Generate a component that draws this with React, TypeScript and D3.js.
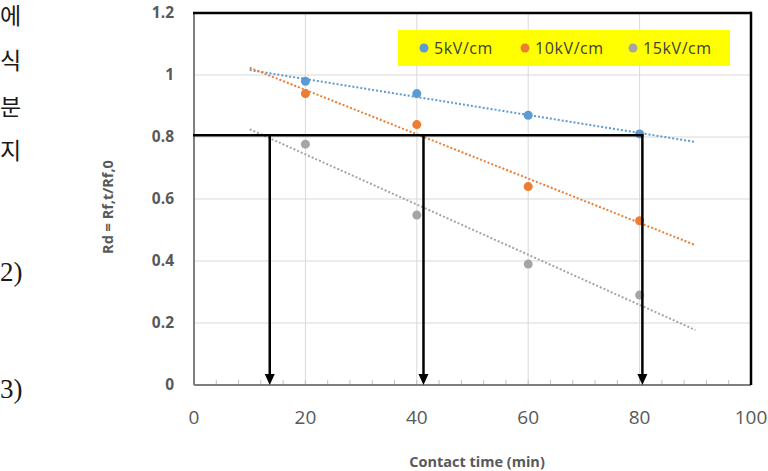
import React from "react";
import * as d3 from "d3";

// Contact time (min) at which each run was sampled
const times = [20, 40, 60, 80];
// Normalised flux ratio Rd for each field strength
const series5 = [0.98, 0.94, 0.87, 0.81];
const series10 = [0.94, 0.84, 0.64, 0.53];
const series15 = [0.777, 0.548, 0.39, 0.29];
const seriesNames = ["5kV/cm", "10kV/cm", "15kV/cm"];
const seriesColors = ["#5b9bd5", "#ed7d31", "#a5a5a5"];

const xTicks = [0, 20, 40, 60, 80, 100];
const yTicks = [0, 0.2, 0.4, 0.6, 0.8, 1, 1.2];
const xMinorTicks = d3.range(0, 101, 4);

// Reading guide: horizontal threshold level and the times where it is crossed
const guideLevel = 0.806;
const guideTimes = [13.6, 41.2, 80.5];

// Fragments of the neighbouring page text
const sideText = [
  { t: "에", y: 24, s: 23 },
  { t: "식", y: 69, s: 23 },
  { t: "분", y: 115, s: 23 },
  { t: "지", y: 159, s: 23 },
  { t: "2)", y: 281, s: 27 },
  { t: "3)", y: 398, s: 27 },
];

const W = 768;
const H = 471;
const left = 194;
const right = 751;
const top = 13;
const bottom = 385;

function fit(xs: number[], ys: number[]) {
  const mx = d3.mean(xs)!;
  const my = d3.mean(ys)!;
  const sxy = d3.sum(xs, (x, i) => (x - mx) * (ys[i] - my));
  const sxx = d3.sum(xs, (x) => (x - mx) * (x - mx));
  const b = sxy / sxx;
  const a = my - b * mx;
  return (x: number) => a + b * x;
}

export default function App() {
  const x = d3.scaleLinear().domain([0, 100]).range([left, right]);
  const y = d3.scaleLinear().domain([0, 1.2]).range([bottom, top]);
  const all = [series5, series10, series15];
  const font = "'Open Sans', Lato, sans-serif";
  const line = d3
    .line<[number, number]>()
    .x((d) => x(d[0]))
    .y((d) => y(d[1]));

  return (
    <svg
      width={W}
      height={H}
      style={{ position: "absolute", left: 0, top: 0, background: "#fff" }}
    >
      {sideText.map((s, i) => (
        <text
          key={i}
          x={0}
          y={s.y}
          fontSize={s.s}
          fontFamily="'Liberation Serif', 'Noto Sans CJK KR', serif"
          fill="#1a1a1a"
        >
          {s.t}
        </text>
      ))}

      {/* gridlines */}
      {yTicks
        .filter((v) => v > 0 && v < 1.2)
        .map((v) => (
          <line key={"gy" + v} x1={left} x2={right} y1={y(v)} y2={y(v)} stroke="#d9d9d9" strokeWidth={1} />
        ))}
      {xTicks
        .filter((v) => v > 0 && v < 100)
        .map((v) => (
          <line key={"gx" + v} x1={x(v)} x2={x(v)} y1={top} y2={bottom} stroke="#d9d9d9" strokeWidth={1} />
        ))}

      {/* minor ticks */}
      {xMinorTicks.map((v) => (
        <line key={"mt" + v} x1={x(v)} x2={x(v)} y1={bottom} y2={bottom - 5} stroke="#bfbfbf" strokeWidth={1} />
      ))}

      {/* axes */}
      <line x1={left} x2={left} y1={top} y2={bottom} stroke="#7f7f7f" strokeWidth={2} />
      <line x1={left} x2={right} y1={bottom} y2={bottom} stroke="#7f7f7f" strokeWidth={2} />

      {/* trendlines */}
      {all.map((s, i) => {
        const f = fit(times, s);
        return (
          <path
            key={"tl" + i}
            d={line([
              [10, f(10)],
              [90, f(90)],
            ])!}
            stroke={seriesColors[i]}
            strokeWidth={2}
            strokeDasharray="2,2"
            fill="none"
          />
        );
      })}

      {/* points */}
      {all.map((s, i) =>
        s.map((v, j) => (
          <circle key={"p" + i + "-" + j} cx={x(times[j])} cy={y(v)} r={4.5} fill={seriesColors[i]} />
        ))
      )}

      {/* frame top / right */}
      <line x1={left - 1} x2={right} y1={top} y2={top} stroke="#000" strokeWidth={2.5} />
      <line x1={right} x2={right} y1={top - 1.25} y2={bottom} stroke="#000" strokeWidth={2.5} />

      {/* guide line and arrows */}
      <line
        x1={left - 1}
        x2={x(guideTimes[guideTimes.length - 1]) + 1}
        y1={y(guideLevel)}
        y2={y(guideLevel)}
        stroke="#000"
        strokeWidth={2.5}
      />
      {guideTimes.map((t) => (
        <g key={"a" + t}>
          <line x1={x(t)} x2={x(t)} y1={y(guideLevel)} y2={bottom - 8} stroke="#000" strokeWidth={2.5} />
          <path
            d={`M${x(t) - 5},${bottom - 11} L${x(t) + 5},${bottom - 11} L${x(t)},${bottom} Z`}
            fill="#000"
          />
        </g>
      ))}

      {/* y tick labels */}
      {yTicks.map((v) => (
        <text
          key={"yl" + v}
          x={174}
          y={y(v)}
          dy="0.35em"
          textAnchor="end"
          fontSize={15.5}
          fontWeight="bold"
          fontFamily={font}
          fill="#595959"
        >
          {String(Math.round(v * 10) / 10)}
        </text>
      ))}

      {/* x tick labels */}
      {xTicks.map((v) => (
        <text
          key={"xl" + v}
          x={x(v)}
          y={417}
          dy="0.35em"
          textAnchor="middle"
          fontSize={19}
          fontFamily={font}
          fill="#595959"
        >
          {v}
        </text>
      ))}

      {/* axis titles */}
      <text
        x={477}
        y={462}
        dy="0.35em"
        textAnchor="middle"
        fontSize={14.5}
        fontWeight="bold"
        fontFamily={font}
        fill="#595959"
      >
        Contact time (min)
      </text>
      <text
        transform={`translate(108, ${207}) rotate(-90)`}
        textAnchor="middle"
        dy="0.35em"
        fontSize={14.5}
        fontWeight="bold"
        fontFamily={font}
        fill="#595959"
      >
        Rd = Rf,t/Rf,0
      </text>

      {/* legend */}
      <rect x={398} y={30} width={332} height={36} fill="#ffff00" />
      {seriesNames.map((n, i) => {
        const lx = [424, 525, 633][i];
        return (
          <g key={"lg" + i}>
            <circle cx={lx} cy={48} r={4.5} fill={seriesColors[i]} />
            <text
              x={lx + 10}
              y={48}
              dy="0.35em"
              fontSize={16}
              letterSpacing={0.6}
              fontFamily={font}
              fill="#404040"
            >
              {n}
            </text>
          </g>
        );
      })}
    </svg>
  );
}
